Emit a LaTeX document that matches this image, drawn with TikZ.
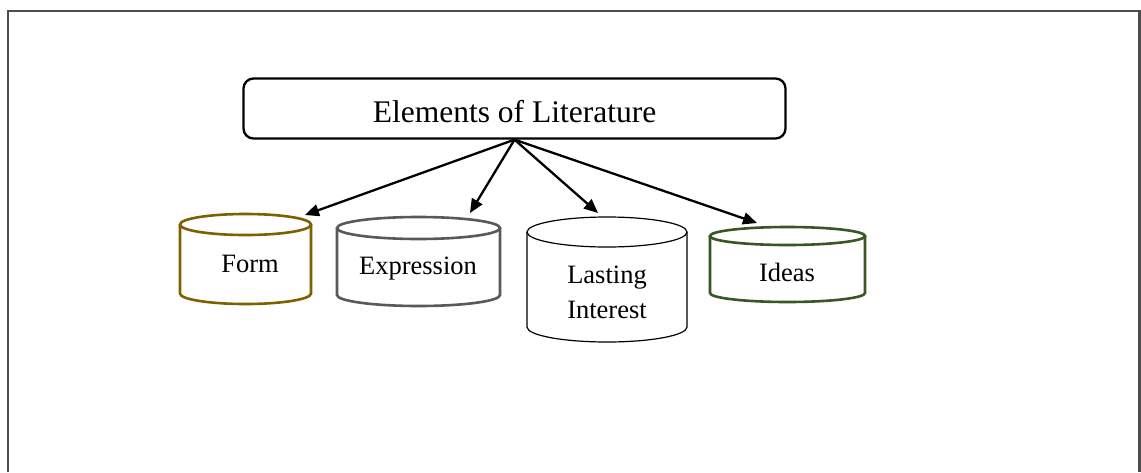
\documentclass[tikz,border=0pt]{standalone}
\usepackage{fontspec}
\setmainfont{Liberation Serif}
\usetikzlibrary{arrows.meta}
\definecolor{formc}{HTML}{7F6000}
\definecolor{exprc}{HTML}{595959}
\definecolor{ideac}{HTML}{385723}
\definecolor{framec}{HTML}{4D4D4D}
\newcommand{\mycyl}[7]{% name, cx, rx, ytop, ybot, ry, style
  \draw[#7] (#2,#4+#6) ellipse[x radius=#3pt, y radius=#6pt];
  \draw[#7] (#2-#3,#4+#6) -- (#2-#3,#5-#6)
    arc[start angle=180,end angle=360,x radius=#3pt,y radius=#6pt]
    -- (#2+#3,#4+#6);
  \node[inner sep=0pt, minimum width=2*#3 pt, minimum height=#5-#4 pt] (#1) at (#2,{(#4+#5)/2}) {};
}
\tikzset{
  titlebox/.style={draw, line width=2.3pt, rounded corners=10pt, minimum width=542pt, minimum height=60pt, inner sep=0pt},
  lbl/.style={anchor=base, inner sep=0pt, font=\fontsize{26.5}{35}\selectfont, align=center},
  conn/.style={line width=2.3pt, -{Triangle[length=14pt,width=12pt]}},
}
\begin{document}
\begin{tikzpicture}[x=1pt,y=-1pt]
\useasboundingbox (0,0) rectangle (1141,472);
\fill[white] (0,0) rectangle (1141,472);
% frame
\draw[framec, line width=2.2pt] (8,472) -- (8,11) -- (1139.5,11) -- (1139.5,472);
% title
\node[titlebox] (root) at (514.5,108.5) {};
\node[anchor=base, inner sep=0pt, font=\fontsize{31.5}{37}\selectfont] (roottxt) at (514.5,122) {Elements of Literature};
% cylinders
\mycyl{form}{245.5}{65.5}{214}{304}{10.5}{formc, line width=2.6pt}
\mycyl{expr}{418.5}{81.5}{217}{306}{11}{exprc, line width=2.6pt}
\mycyl{last}{607}{80}{217}{342}{15}{black, line width=1.2pt}
\mycyl{idea}{787.5}{77.5}{227}{302}{9}{ideac, line width=2.6pt}
% labels
\node[lbl] (formtxt) at (250,272) {Form};
\node[lbl] (exprtxt) at (418,274) {Expression};
\node[lbl] (lasttxt1) at (607,283) {Lasting};
\node[lbl] (lasttxt2) at (607,318) {Interest};
\node[lbl] (ideatxt) at (787,281.5) {Ideas};
% arrow tips
\coordinate (formtip) at (305,215);
\coordinate (exprtip) at (470,213);
\coordinate (lasttip) at (598,213);
\coordinate (ideatip) at (757,223);
\draw[conn] (root.south) -- (formtip);
\draw[conn] (root.south) -- (exprtip);
\draw[conn] (root.south) -- (lasttip);
\draw[conn] (root.south) -- (ideatip);
\end{tikzpicture}
\end{document}
